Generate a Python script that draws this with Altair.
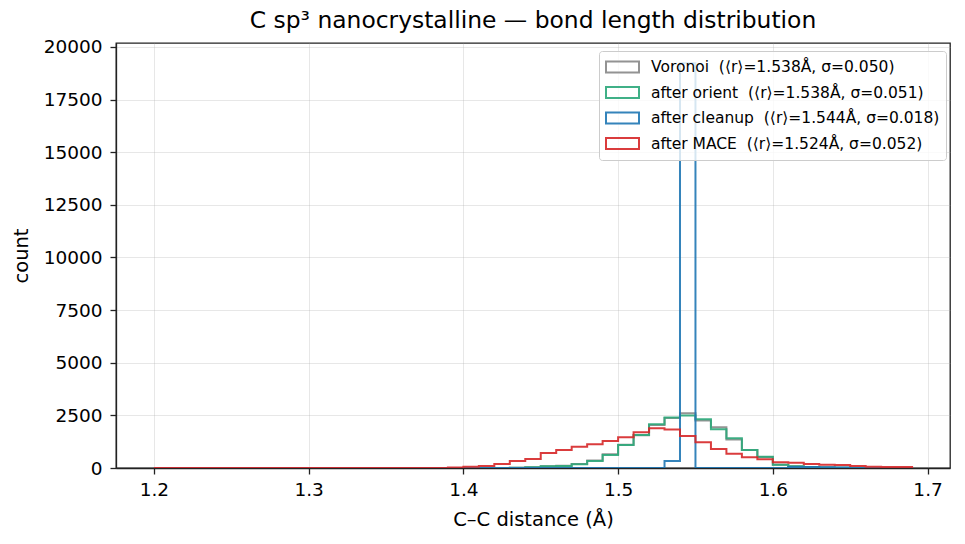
import altair as alt
import pandas as pd

# histogram bins: 1.20 .. 1.69, width 0.01 (49 bins)
bin_start = 1.20
bin_width = 0.01
n_bins = 49

series_names = ["Voronoi", "after orient", "after cleanup", "after MACE"]
series_labels = [
    "Voronoi\u00a0\u00a0(\u27e8r\u27e9=1.538\u00c5, \u03c3=0.050)",
    "after orient\u00a0\u00a0(\u27e8r\u27e9=1.538\u00c5, \u03c3=0.051)",
    "after cleanup\u00a0\u00a0(\u27e8r\u27e9=1.544\u00c5, \u03c3=0.018)",
    "after MACE\u00a0\u00a0(\u27e8r\u27e9=1.524\u00c5, \u03c3=0.052)",
]
series_colors = ["#888888", "#2ca87a", "#1f77b4", "#d62728"]

voronoi = [0] * 22 + [5, 15, 35, 85, 110, 190, 360, 650, 1100, 1560, 2040, 2380,
                      2600, 2260, 1930, 1350, 860, 520, 160, 85, 50, 25, 10, 5] + [0] * 3
orient = [0] * 22 + [5, 15, 30, 80, 100, 175, 330, 620, 1090, 1570, 2075, 2400,
                     2490, 2310, 1840, 1410, 855, 540, 150, 80, 50, 25, 10, 5] + [0] * 3
cleanup = [0] * 33 + [330, 19230] + [0] * 6 + [50, 50, 40, 20] + [0] * 4
mace = [0] * 18 + [5, 25, 60, 100, 190, 330, 430, 710, 850, 1010, 1125, 1280, 1460,
                   1700, 1885, 1830, 1520, 1220, 900, 680, 510, 420, 270, 250, 190,
                   150, 140, 95, 60, 50, 50]

x_ticks = [1.2, 1.3, 1.4, 1.5, 1.6, 1.7]
y_ticks = [0, 2500, 5000, 7500, 10000, 12500, 15000, 17500, 20000]

rows = []
for name, label, vals in zip(series_names, series_labels, [voronoi, orient, cleanup, mace]):
    edges = [round(bin_start + bin_width * k, 4) for k in range(n_bins + 1)]
    pts = [(edges[0], 0)] + [(edges[k], vals[k]) for k in range(n_bins)] + \
          [(edges[-1], vals[-1]), (edges[-1], 0)]
    for i, (x, y) in enumerate(pts):
        rows.append({"series": label, "x": x, "count": y, "i": i})
df = pd.DataFrame(rows)

FONT = "DejaVu Sans"

chart = alt.Chart(df).mark_line(
    interpolate="step-after", strokeWidth=2, opacity=0.9, clip=True
).encode(
    x=alt.X("x:Q",
            scale=alt.Scale(domain=[1.1755, 1.7145], nice=False, zero=False),
            axis=alt.Axis(values=x_ticks, format=".1f", title="C\u2013C distance (\u00c5)")),
    y=alt.Y("count:Q",
            scale=alt.Scale(domain=[0, 20190], nice=False),
            axis=alt.Axis(values=y_ticks, format="d", title="count")),
    color=alt.Color("series:N",
                    scale=alt.Scale(domain=series_labels, range=series_colors),
                    legend=alt.Legend(
                        orient="none", legendX=483, legendY=8, title=None,
                        symbolType="M-1,-0.33H1V0.33H-1Z", symbolSize=1089,
                        symbolStrokeWidth=2, symbolFillColor="transparent",
                        labelFontSize=15.5, labelFont=FONT, labelLimit=400,
                        labelOffset=11, fillColor="rgba(255,255,255,0.8)",
                        strokeColor="#cccccc", padding=6, cornerRadius=3,
                        clipHeight=20, rowPadding=5.5)),
    order="i:Q",
).properties(
    width=834, height=425,
    title=alt.Title("C sp\u00b3 nanocrystalline \u2014 bond length distribution",
                    fontSize=23.4, font=FONT, fontWeight="normal", color="black",
                    anchor="middle", offset=5),
    autosize=alt.AutoSizeParams(type="none"),
    padding={"left": 116, "top": 43, "right": 15, "bottom": 76},
).configure_axis(
    labelFont=FONT, titleFont=FONT, labelFontSize=18.5, titleFontSize=19.5,
    labelColor="black", titleColor="black", titleFontWeight="normal",
    domainColor="#222222", domainWidth=1.3, tickColor="#222222", tickWidth=1.3,
    tickSize=6, gridColor="#b0b0b0", gridOpacity=0.3, gridWidth=1,
).configure_axisY(
    labelPadding=8, titlePadding=12
).configure_axisX(
    labelPadding=6, titlePadding=12
).configure_view(
    stroke="#222222", strokeWidth=1.3
)

chart.save("out.html", embed_options={"renderer": "svg", "actions": False})
